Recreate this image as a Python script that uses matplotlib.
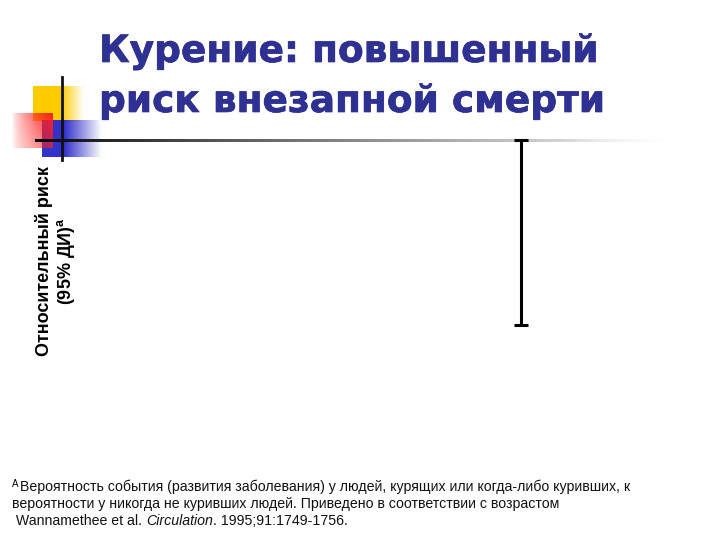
import numpy as np
import matplotlib.pyplot as plt
import matplotlib.patheffects as pe

plt.rcParams['mathtext.fontset'] = 'custom'
plt.rcParams['mathtext.rm'] = 'Liberation Sans'
plt.rcParams['mathtext.bf'] = 'Liberation Sans:bold'
plt.rcParams['mathtext.it'] = 'Liberation Sans:italic'

# data
groups = ['Курильщики']
rr_low = [1.0]
rr_high = [3.13]

title_lines = ['Курение: повышенный', 'риск внезапной смерти']
ylabel = 'Относительный риск\n(95% ДИ)$^{\\mathbf{a}}$'
note_lines = ['Вероятность события (развития заболевания) у людей, курящих или когда-либо куривших, к',
              'вероятности у никогда не куривших людей. Приведено в соответствии с возрастом']
ref_parts = [(' Wannamethee et al. ', 'normal'), ('Circulation', 'italic'),
             ('. 1995;91:1749-1756.', 'normal')]

W, H = 720, 540
fig = plt.figure(figsize=(7.2, 5.4), dpi=100)

# slide decoration, in pixel coords
bg = fig.add_axes([0, 0, 1, 1])
bg.set_xlim(0, W)
bg.set_ylim(H, 0)
bg.axis('off')


def fade_box(color, x0, x1, y0, y1, solid=0.5, vfade=0.0, reverse=False):
    nx, ny = 120, 40
    t = np.linspace(0, 1, nx)
    if reverse:
        a = t ** 0.7
    else:
        a = np.clip(1 - (t - solid) / (1 - solid), 0, 1)
    v = 1 - vfade * np.linspace(0, 1, ny)
    img = np.zeros((ny, nx, 4))
    img[..., :3] = plt.matplotlib.colors.to_rgb(color)
    img[..., 3] = np.outer(v, a)
    bg.imshow(img, extent=(x0, x1, y1, y0), aspect='auto', interpolation='bilinear')


fade_box('#FFCC00', 33, 84, 86, 121, solid=0.55)
fade_box('#3333CC', 42, 102, 120, 157, solid=0.38)
fade_box('#FF1F1F', 12, 53, 113, 148, reverse=True, vfade=0.35)

# gradient rule under title
nx = 400
g = np.linspace(0, 1, nx) ** 0.85
line_img = np.zeros((1, nx, 4))
line_img[..., :3] = g[None, :, None] * 0.97
line_img[..., 3] = 1 - np.clip((g - 0.85) / 0.15, 0, 1) * 0.9
bg.imshow(line_img, extent=(35, 670, 142.5, 139.5), aspect='auto', interpolation='bilinear')
bg.plot([62, 62], [77, 160], color='#111111', lw=2)
bg.set_xlim(0, W)
bg.set_ylim(H, 0)

# title
for i, s in enumerate(title_lines):
    fig.text(99 / W, 1 - (62 + 50 * i) / H, s, fontsize=27, fontweight='bold',
             family='DejaVu Sans', color='#2E3192', va='baseline', ha='left',
             path_effects=[pe.withStroke(linewidth=0.5, foreground='#2E3192')])

# chart
ax = fig.add_axes([75 / W, 1 - 412 / H, 605 / W, 302 / H])
ax.patch.set_alpha(0)
x = np.arange(len(groups))
lo = np.array(rr_low)
hi = np.array(rr_high)
mid = (lo + hi) / 2
ax.errorbar(x, mid, yerr=(hi - lo) / 2, fmt='none', ecolor='black',
            elinewidth=2.2, capsize=4.8, capthick=2.2)
ax.set_xlim(-2.21, 0.79)
ax.set_ylim(0, 302 / 87)
ax.set_xticks([])
ax.set_yticks([])
for sp in ax.spines.values():
    sp.set_visible(False)
ax.set_ylabel(ylabel, fontsize=13, fontweight='bold', family='Liberation Sans',
              multialignment='center', linespacing=1.1)
ax.yaxis.set_label_coords((77 - 75) / 605, 0.5)

# footnote
fs = 10.2
fig.text(12 / W, 1 - 487 / H, 'A', fontsize=7, family='Liberation Sans', va='baseline')
fig.text(20 / W, 1 - 491 / H, note_lines[0], fontsize=fs, family='Liberation Sans',
         color='#111111', va='baseline')
fig.text(12 / W, 1 - 508 / H, note_lines[1], fontsize=fs, family='Liberation Sans',
         color='#111111', va='baseline')

fig.canvas.draw()
r = fig.canvas.get_renderer()
xpos = 12
for s, style in ref_parts:
    t = fig.text(xpos / W, 1 - 525 / H, s, fontsize=fs, family='Liberation Sans',
                 style=style, color='#111111', va='baseline')
    xpos = t.get_window_extent(r).x1

fig.savefig('out.png', dpi=100)
